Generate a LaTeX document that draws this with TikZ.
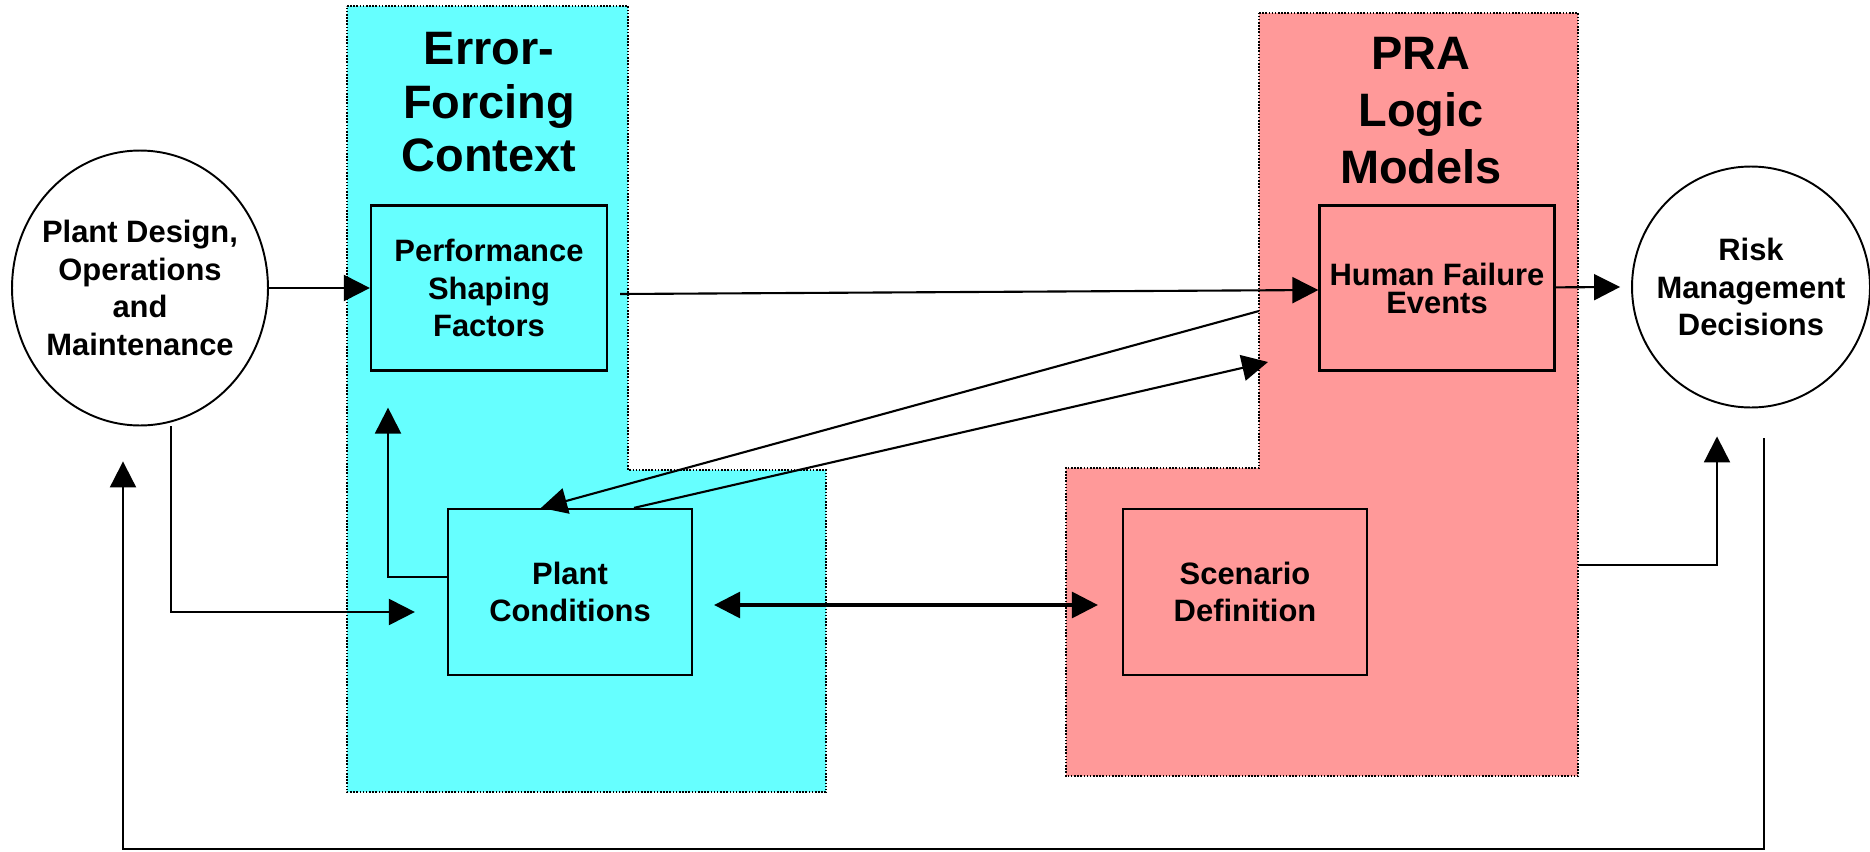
\documentclass[tikz,border=0pt]{standalone}
\usepackage{fontspec}
\setmainfont{Liberation Sans}
\usepackage{tikz}
\usetikzlibrary{arrows.meta,shapes.geometric}
\definecolor{efcCyan}{HTML}{66FFFF}
\definecolor{praRed}{HTML}{FF9999}
\tikzset{
  box/.style={draw, line width=1.3pt, minimum width=4.72cm, minimum height=3.3cm,
    inner sep=0pt, align=center, font=\fontsize{17.6}{21.3}\selectfont\bfseries},
  oval/.style={draw, ellipse, fill=white, line width=1.1pt, inner ysep=0pt, inner xsep=-0.24cm,
    align=center, font=\fontsize{17.6}{21.3}\selectfont\bfseries},
  region/.style={draw, line width=1.2pt, dash pattern=on 0.9pt off 0.9pt},
  heading/.style={anchor=north, inner sep=0pt, align=center},
  pfeil/.style={line width=1.2pt, -{Triangle[length=0.52cm,width=0.52cm]}},
  doppelpfeil/.style={line width=1.8pt, {Triangle[length=0.52cm,width=0.52cm]}-{Triangle[length=0.52cm,width=0.52cm]}}
}
\begin{document}
\begin{tikzpicture}[x=0.02cm, y=-0.02cm]
\useasboundingbox (0,0) rectangle (1870,852);

\draw[region, fill=efcCyan] (347,6) -- (628,6) -- (628,470) -- (826,470) -- (826,792) -- (347,792) -- cycle;
\draw[region, fill=praRed] (1259,13) -- (1578,13) -- (1578,776) -- (1066,776) -- (1066,468) -- (1259,468) -- cycle;

\node[heading, font=\fontsize{26.7}{30.5}\selectfont\bfseries] (efcTitle) at (489,32) {Error-\\Forcing\\Context};
\node[heading, font=\fontsize{26.7}{32.3}\selectfont\bfseries] (praTitle) at (1421,37) {PRA\\Logic\\Models};

\node[oval, minimum width=5.12cm, minimum height=5.5cm] (plant) at (140,288) {Plant Design,\\Operations\\and\\Maintenance};
\node[oval, minimum width=4.76cm, minimum height=4.82cm] (risk) at (1751,287) {Risk\\Management\\Decisions};

\node[box] (psf) at (489,288) {Performance\\Shaping\\Factors};
\node[box, minimum width=4.88cm, minimum height=3.32cm] (pc) at (570,592) {Plant\\Conditions};
\node[box, minimum width=4.7cm, font=\fontsize{17.6}{15.9}\selectfont\bfseries] (hfe) at (1437,288) {Human Failure\\Events};
\node[box, minimum width=4.88cm, minimum height=3.32cm] (scen) at (1245,592) {Scenario\\Definition};

\coordinate (bottom) at (0,849);
\coordinate (praEdge) at (1259,311);
\coordinate (praTip) at (1268,362);
\coordinate (praOut) at (1578,565);
\coordinate (rk) at ([xshift=0.26cm,yshift=-0.6cm]risk.south);
\coordinate (pd) at ([xshift=-0.34cm,yshift=-0.7cm]plant.south);

\draw[pfeil] (plant) -- (psf);
\draw[pfeil] ([xshift=0.24cm,yshift=-0.12cm]psf.east) -- ([yshift=-0.04cm]hfe.west);
\draw[pfeil] (hfe) -- ([xshift=-0.22cm]risk.west);
\draw[pfeil] ([xshift=0.62cm]plant.south) |- ([xshift=-0.64cm,yshift=-0.4cm]pc.west);
\draw[pfeil] ([yshift=0.3cm]pc.west) -| ([xshift=-2.02cm,yshift=-0.72cm]psf.south);
\draw[pfeil] (praEdge) -- ([xshift=-0.58cm]pc.north);
\draw[pfeil] ([xshift=1.28cm]pc.north) -- (praTip);
\draw[doppelpfeil] ([xshift=0.42cm,yshift=-0.26cm]pc.east) -- ([xshift=-0.48cm,yshift=-0.26cm]scen.west);
\draw[pfeil] (praOut) -| ([xshift=-0.68cm,yshift=-0.56cm]risk.south);
\draw[pfeil] (rk) -- (rk |- bottom) -| (pd);
\end{tikzpicture}
\end{document}
